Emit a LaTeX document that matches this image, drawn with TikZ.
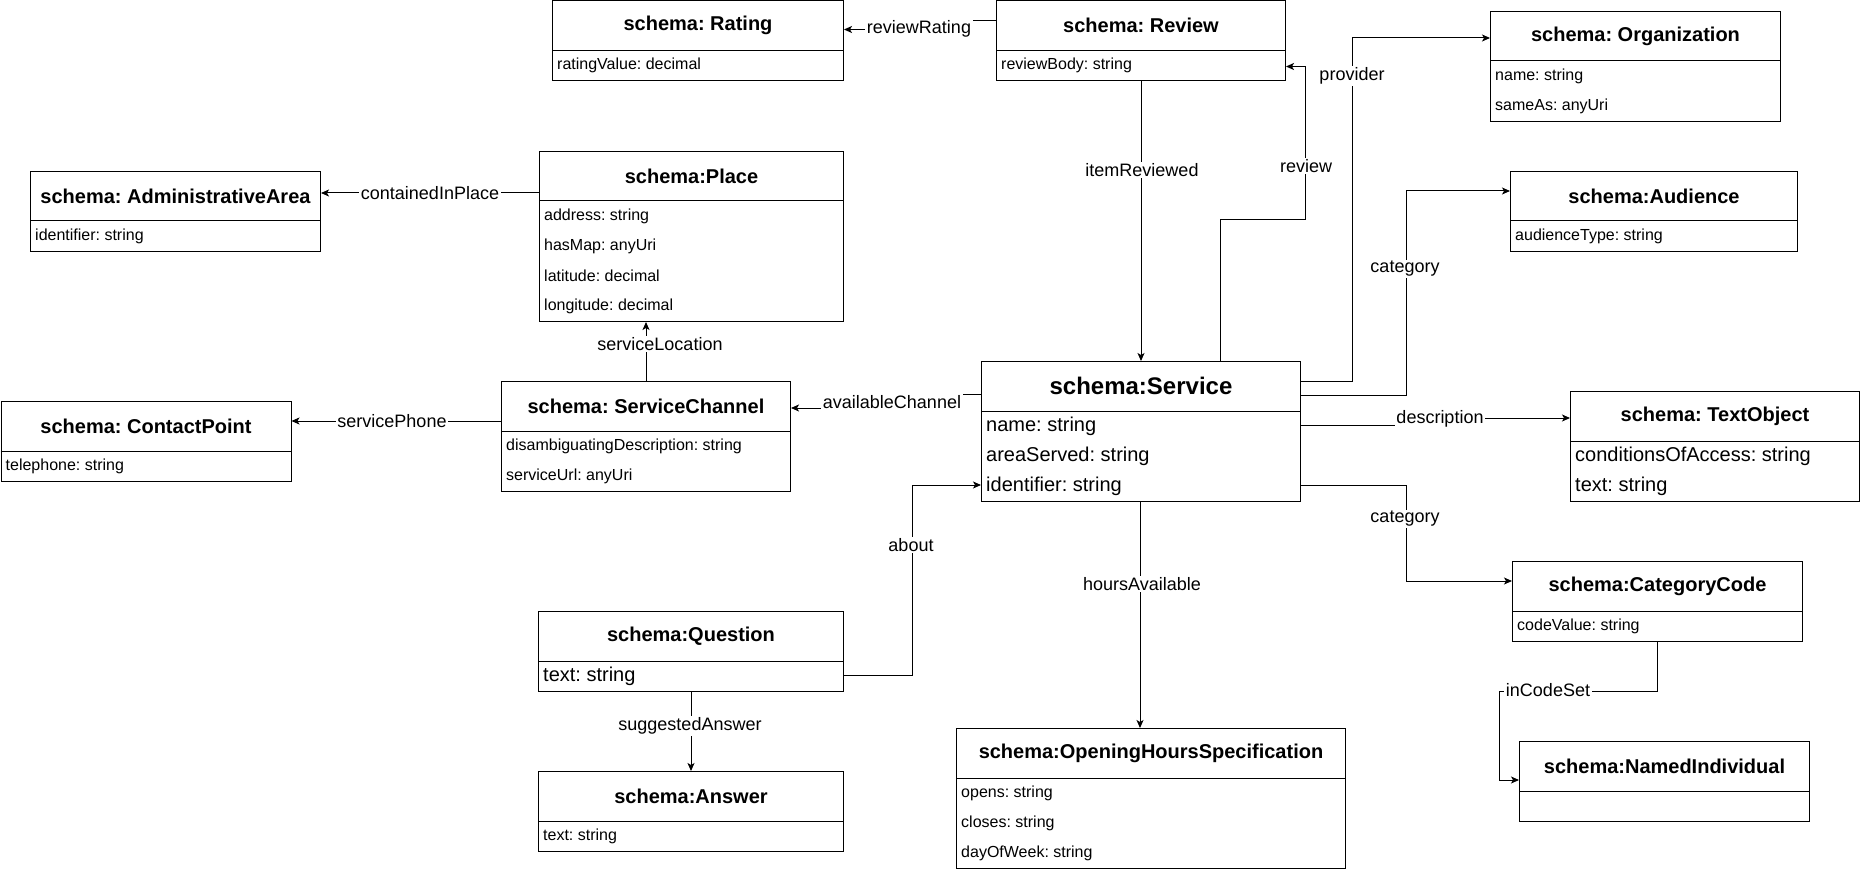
\documentclass[tikz,border=0pt]{standalone}
\usepackage{fontspec}
\setmainfont{Liberation Sans}
\usetikzlibrary{calc,arrows.meta}
\frenchspacing
\tikzset{
 clsbox/.style={draw, line width=1pt, fill=white, anchor=north west, inner sep=0pt},
 ttl/.style={font=\fontsize{20}{24}\selectfont\bfseries\frenchspacing, inner sep=0pt},
 ttlbig/.style={font=\fontsize{24}{28}\selectfont\bfseries\frenchspacing, inner sep=0pt},
 attr/.style={font=\fontsize{16}{19}\selectfont\frenchspacing, anchor=west, inner sep=0pt},
 attrbig/.style={font=\fontsize{20}{24}\selectfont\frenchspacing, anchor=west, inner sep=0pt},
 lbl/.style={font=\fontsize{18}{21}\selectfont, fill=white, inner sep=1.5pt},
 conn/.style={line width=1pt, -{Stealth[length=8pt,width=7pt,inset=2pt]}},
}
\newcommand\umlclass[7]{%
 \node[clsbox, minimum width=#4pt, minimum height=#5pt] (#1) at (#2,#3) {};
 \draw[line width=1pt] ($(#1.north west)+(0,50)$) -- ($(#1.north east)+(0,50)$);
 \node[#6] (#1-title) at ($(#1.north)+(0,25)$) {#7};
}
\newcommand\umlattr[5]{%
 \node[#4] (#1) at ($(#2.north west)+(5,65+30*#3)$) {#5};
}
\begin{document}
\begin{tikzpicture}[x=1pt,y=-1pt]
\useasboundingbox[fill=white] (0,0) rectangle (1861,869);

% ---------- classes ----------
\umlclass{rating}{552}{0.5}{291}{80}{ttl}{schema: Rating}
\umlattr{rating-a0}{rating}{0}{attr}{ratingValue: decimal}

\umlclass{review}{996}{0.5}{289}{80}{ttl}{schema: Review}
\umlattr{review-a0}{review}{0}{attr}{reviewBody: string}

\umlclass{org}{1490}{11}{290}{110}{ttl}{schema: Organization}
\umlattr{org-a0}{org}{0}{attr}{name: string}
\umlattr{org-a1}{org}{1}{attr}{sameAs: anyUri}

\umlclass{audience}{1510}{171}{287}{80}{ttl}{schema:Audience}
\umlattr{audience-a0}{audience}{0}{attr}{audienceType: string}

\umlclass{admin}{30}{171}{290}{80}{ttl}{schema: AdministrativeArea}
\umlattr{admin-a0}{admin}{0}{attr}{identifier: string}

\umlclass{place}{539}{151}{304}{170}{ttl}{schema:Place}
\umlattr{place-a0}{place}{0}{attr}{address: string}
\umlattr{place-a1}{place}{1}{attr}{hasMap: anyUri}
\umlattr{place-a2}{place}{2}{attr}{latitude: decimal}
\umlattr{place-a3}{place}{3}{attr}{longitude: decimal}

\umlclass{contact}{0.5}{401}{290}{80}{ttl}{schema: ContactPoint}
\umlattr{contact-a0}{contact}{0}{attr}{telephone: string}

\umlclass{channel}{501}{381}{289}{110}{ttl}{schema: ServiceChannel}
\umlattr{channel-a0}{channel}{0}{attr}{disambiguatingDescription: string}
\umlattr{channel-a1}{channel}{1}{attr}{serviceUrl: anyUri}

\umlclass{service}{981}{361}{319}{140}{ttlbig}{schema:Service}
\umlattr{service-a0}{service}{0}{attrbig}{name: string}
\umlattr{service-a1}{service}{1}{attrbig}{areaServed: string}
\umlattr{service-a2}{service}{2}{attrbig}{identifier: string}

\umlclass{textobj}{1570}{391}{289}{110}{ttl}{schema: TextObject}
\umlattr{textobj-a0}{textobj}{0}{attrbig}{conditionsOfAccess: string}
\umlattr{textobj-a1}{textobj}{1}{attrbig}{text: string}

\umlclass{catcode}{1512}{561}{290}{80}{ttl}{schema:CategoryCode}
\umlattr{catcode-a0}{catcode}{0}{attr}{codeValue: string}

\umlclass{named}{1519}{741}{290}{80}{ttl}{schema:NamedIndividual}

\umlclass{question}{538}{611}{305}{80}{ttl}{schema:Question}
\umlattr{question-a0}{question}{0}{attrbig}{text: string}

\umlclass{answer}{538}{771}{305}{80}{ttl}{schema:Answer}
\umlattr{answer-a0}{answer}{0}{attr}{text: string}

\umlclass{opening}{956}{728}{389}{140}{ttl}{schema:OpeningHoursSpecification}
\umlattr{opening-a0}{opening}{0}{attr}{opens: string}
\umlattr{opening-a1}{opening}{1}{attr}{closes: string}
\umlattr{opening-a2}{opening}{2}{attr}{dayOfWeek: string}

% ---------- connectors ----------
\draw[conn] ($(review.north west)+(0,20)$) -- ++(-26,0) |- ($(rating.north east)+(0,29)$);
\node[lbl] (l-rr) at (919,29) {reviewRating};

\draw[conn] (review.south) -- (service.north);
\node[lbl] (l-ir) at (1142,170) {itemReviewed};

\draw[conn] ($(service.north west)+(239,0)$) -- ++(0,-141) -- ++(85,0) |- ($(review.north east)+(0,66)$);
\node[lbl] (l-rv) at (1306,166) {review};

\draw[conn] ($(service.north east)+(0,20)$) -- ++(51,0) |- ($(org.north west)+(0,27)$);
\node[lbl] (l-pr) at (1352,76) {provider};

\draw[conn] ($(service.north east)+(0,34)$) -- ++(105,0) |- ($(audience.north west)+(0,20)$);
\node[lbl] (l-ca) at (1405,269) {category};

\draw[conn] ($(service.north east)+(0,64)$) -- ++(100,0) |- ($(textobj.north west)+(0,27)$);
\node[lbl] (l-de) at (1440,419) {description};

\draw[conn] ($(service.north east)+(0,124)$) -- ++(105,0) |- ($(catcode.north west)+(0,20)$);
\node[lbl] (l-cc) at (1405,519) {category};

\draw[conn] ($(catcode.south west)+(145,0)$) -- ++(0,49) -| ($(named.north west)+(-20,39)$) -- ($(named.north west)+(0,39)$);
\node[lbl] (l-ic) at (1548,690) {inCodeSet};

\draw[conn] ($(service.south west)+(159,0)$) -- ($(opening.north west)+(184,0)$);
\node[lbl] (l-ha) at (1142,584) {hoursAvailable};

\draw[conn] ($(question.north east)+(0,64)$) -- ++(68,0) |- ($(service.north west)+(0,124)$);
\node[lbl] (l-ab) at (911,545) {about};

\draw[conn] (question.south) -- (answer.north);
\node[lbl] (l-sa) at (690,726) {suggestedAnswer};

\draw[conn] ($(service.north west)+(0,33)$) -- ++(-19,0) |- ($(channel.north east)+(0,27)$);
\node[lbl] (l-ac) at (892,402) {availableChannel};

\draw[conn] (channel.north) -- (channel.north |- place.south);
\node[lbl] (l-sl) at (660,344) {serviceLocation};

\draw[conn] ($(channel.north west)+(0,40)$) -- ($(contact.north east)+(0,20)$);
\node[lbl] (l-sp) at (392,421) {servicePhone};

\draw[conn] ($(place.north west)+(0,42)$) -- ($(admin.north east)+(0,22)$);
\node[lbl] (l-cp) at (430,193) {containedInPlace};
\end{tikzpicture}
\end{document}
